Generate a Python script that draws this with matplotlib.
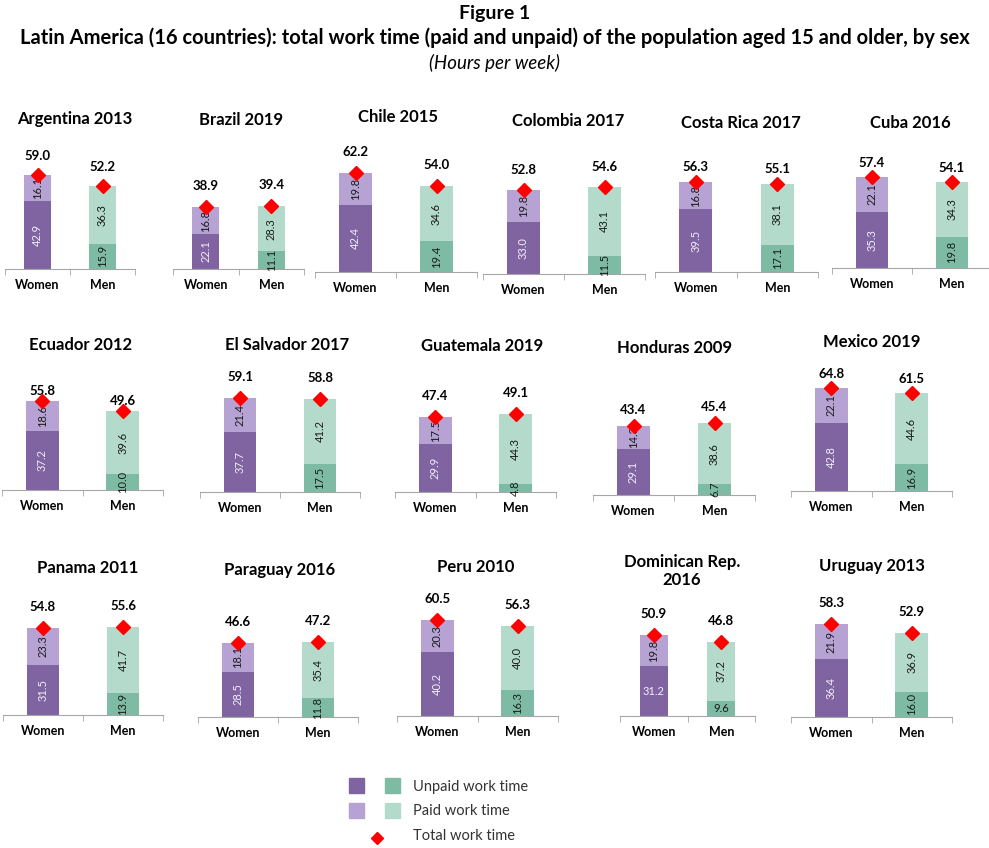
import matplotlib
matplotlib.use("Agg")
import matplotlib.pyplot as plt
from matplotlib.patches import Rectangle

plt.rcParams["font.family"] = ["Lato", "DejaVu Sans"]

# data: hours per week
countries = ["Argentina 2013", "Brazil 2019", "Chile 2015", "Colombia 2017", "Costa Rica 2017", "Cuba 2016",
             "Ecuador 2012", "El Salvador 2017", "Guatemala 2019", "Honduras 2009", "Mexico 2019",
             "Panama 2011", "Paraguay 2016", "Peru 2010", "Dominican Rep.\n2016", "Uruguay 2013"]
women_unpaid = [42.9, 22.1, 42.4, 33.0, 39.5, 35.3, 37.2, 37.7, 29.9, 29.1, 42.8, 31.5, 28.5, 40.2, 31.2, 36.4]
women_paid   = [16.1, 16.8, 19.8, 19.8, 16.8, 22.1, 18.6, 21.4, 17.5, 14.3, 22.1, 23.3, 18.1, 20.3, 19.8, 21.9]
women_total  = [59.0, 38.9, 62.2, 52.8, 56.3, 57.4, 55.8, 59.1, 47.4, 43.4, 64.8, 54.8, 46.6, 60.5, 50.9, 58.3]
men_unpaid   = [15.9, 11.1, 19.4, 11.5, 17.1, 19.8, 10.0, 17.5, 4.8, 6.7, 16.9, 13.9, 11.8, 16.3, 9.6, 16.0]
men_paid     = [36.3, 28.3, 34.6, 43.1, 38.1, 34.3, 39.6, 41.2, 44.3, 38.6, 44.6, 41.7, 35.4, 40.0, 37.2, 36.9]
men_total    = [52.2, 39.4, 54.0, 54.6, 55.1, 54.1, 49.6, 58.8, 49.1, 45.4, 61.5, 55.6, 47.2, 56.3, 46.8, 52.9]
sexes = ["Women", "Men"]

# layout in pixels: axis left, axis right, baseline y, title x, title y, gap of total label
layout = [
    (5, 135, 269, 75, 119, 19), (173, 304, 269, 241, 120, 21), (315, 477, 272, 398, 117, 21),
    (483, 645, 274, 568, 121, 20), (655, 818, 272, 741, 123, 15), (832, 992, 268, 910, 123, 14),
    (2, 163, 490, 81, 345, 10), (200, 360, 492, 287, 345, 21), (395, 556, 492, 482, 346, 21),
    (593, 755, 495, 675, 348, 16), (791, 952, 491, 872, 342, 14),
    (3, 163, 715, 88, 568, 21), (198, 358, 717, 280, 570, 21), (397, 558, 716, 476, 567, 21),
    (620, 755, 716, 682, 571, 21), (791, 952, 717, 872, 566, 21),
]
horizontal_bottom = {"Dominican Rep.\n2016"}

W, H = 989, 848
PX_PER_UNIT = 1.59
YMAX = 70

c_w_unpaid, c_w_paid = "#8064a2", "#b7a3d3"
c_m_unpaid, c_m_paid = "#7ebba4", "#b3dacb"

fig = plt.figure(figsize=(W / 100, H / 100), dpi=100)
over = fig.add_axes([0, 0, 1, 1])
over.set_xlim(0, W)
over.set_ylim(H, 0)
over.axis("off")

over.text(W / 2, 14, "Figure 1", ha="center", va="center", fontsize=14, fontweight="bold")
over.text(W / 2, 38, "Latin America (16 countries): total work time (paid and unpaid) of the population aged 15 and older, by sex",
          ha="center", va="center", fontsize=14.5, fontweight="bold")
over.text(W / 2, 63, "(Hours per week)", ha="center", va="center", fontsize=13.5, style="italic")

bw = 0.41
for i, name in enumerate(countries):
    x0, x1, base, tx, ty, gap = layout[i]
    hpx = YMAX * PX_PER_UNIT
    ax = fig.add_axes([x0 / W, (H - base) / H, (x1 - x0) / W, hpx / H])
    ax.set_xlim(-0.5, 1.5)
    ax.set_ylim(0, YMAX)
    ax.patch.set_alpha(0)
    for s in ["top", "left", "right"]:
        ax.spines[s].set_visible(False)
    ax.spines["bottom"].set_color("#a6a6a6")
    ax.set_yticks([])
    ax.set_xticks([0, 1])
    ax.set_xticklabels(sexes, fontsize=9, fontweight="bold")
    ax.tick_params(axis="x", which="major", length=0, pad=7)
    ax.set_xticks([-0.5, 0.5, 1.5], minor=True)
    ax.tick_params(axis="x", which="minor", length=4, color="#a6a6a6")

    unpaid = [women_unpaid[i], men_unpaid[i]]
    paid = [women_paid[i], men_paid[i]]
    totals = [women_total[i], men_total[i]]
    ax.bar([0, 1], unpaid, bw, color=[c_w_unpaid, c_m_unpaid], clip_on=False)
    ax.bar([0, 1], paid, bw, bottom=unpaid, color=[c_w_paid, c_m_paid], clip_on=False)
    ax.plot([0, 1], totals, "D", color="#ff0000", markersize=7, clip_on=False, zorder=5)

    for j in range(2):
        rot = 0 if name in horizontal_bottom else 90
        col = "#f3eef8" if j == 0 else "#1a1a1a"
        ax.text(j, unpaid[j] / 2, f"{unpaid[j]:.1f}", ha="center", va="center", rotation=rot,
                fontsize=8, color=col)
        ax.text(j, unpaid[j] + paid[j] / 2, f"{paid[j]:.1f}", ha="center", va="center", rotation=90,
                fontsize=8, color="#1a1a1a")
        ax.annotate(f"{totals[j]:.1f}", (j, totals[j]), xytext=(0, gap * 0.72), textcoords="offset points",
                    ha="center", va="center", fontsize=9.5, fontweight="bold")

    over.text(tx, ty, name, ha="center", va="center", fontsize=12, fontweight="bold", linespacing=1.1)

# legend
sq = 15
over.add_patch(Rectangle((349, 778), sq, sq, color=c_w_unpaid))
over.add_patch(Rectangle((385, 778), sq, sq, color=c_m_unpaid))
over.add_patch(Rectangle((349, 803), sq, sq, color=c_w_paid))
over.add_patch(Rectangle((385, 803), sq, sq, color=c_m_paid))
over.plot([377], [838], "D", color="#ff0000", markersize=6)
over.text(413, 787, "Unpaid work time", va="center", fontsize=10.5, color="#333333")
over.text(413, 811, "Paid work time", va="center", fontsize=10.5, color="#333333")
over.text(413, 836, "Total work time", va="center", fontsize=10.5, color="#333333")

fig.savefig("out.png", dpi=100)
